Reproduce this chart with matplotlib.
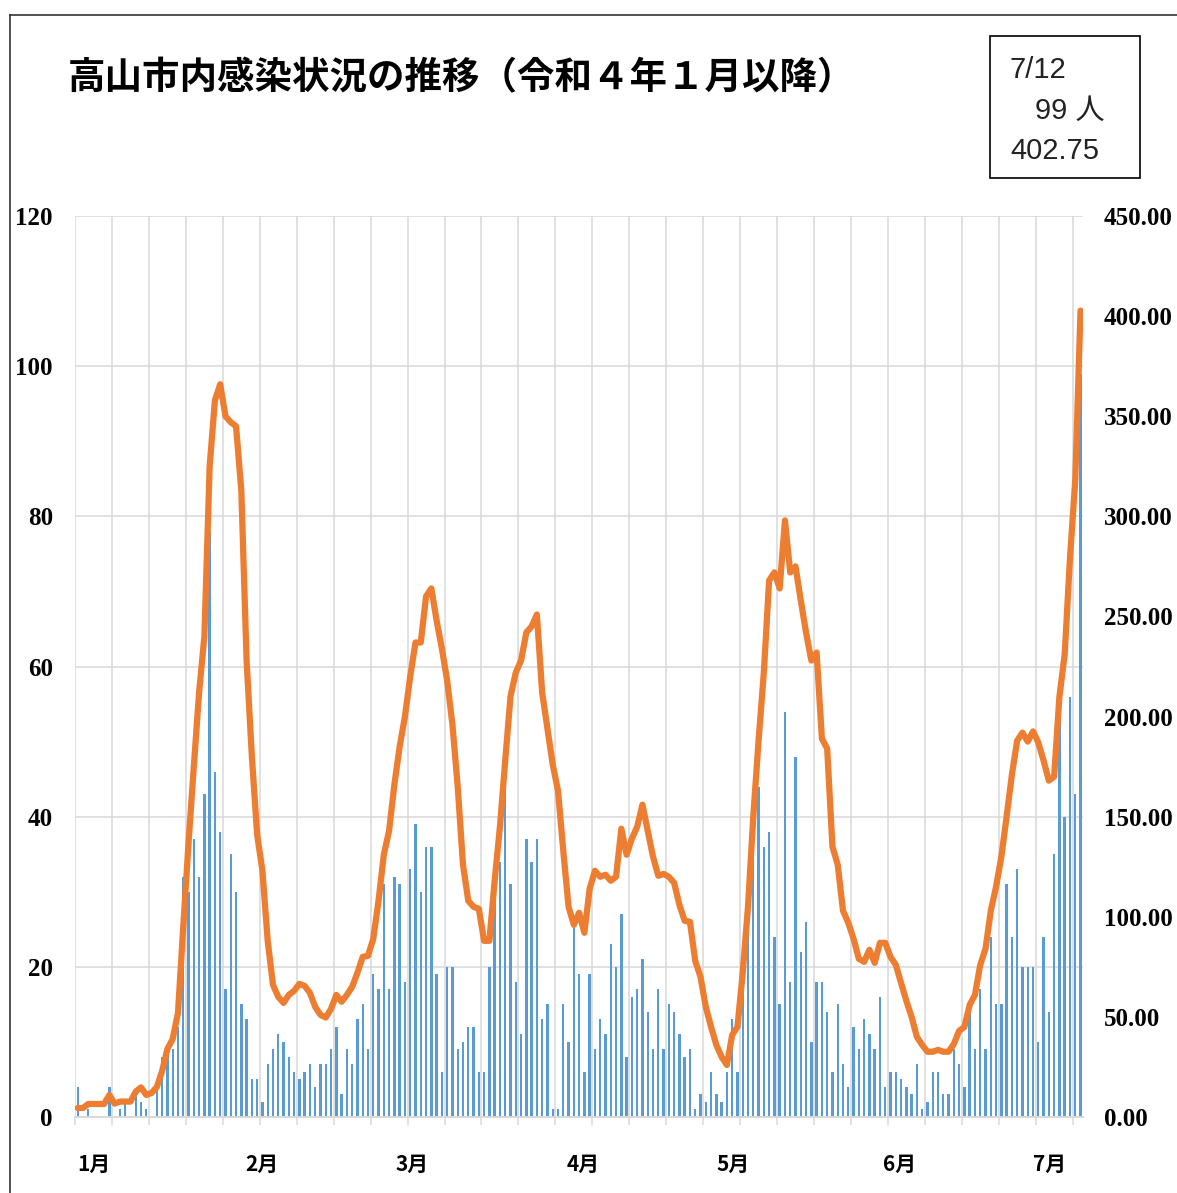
import matplotlib
matplotlib.use("Agg")
import matplotlib.pyplot as plt
from matplotlib.patches import Rectangle
from matplotlib.lines import Line2D
import matplotlib.transforms as mtransforms

plt.rcParams['font.family'] = ['Noto Sans CJK JP', 'DejaVu Sans']

# daily new cases in the city (left axis), one value per day
cases = [4, 0, 1, 0, 0, 0, 4, 0, 1, 2,
         0, 3, 2, 1, 0, 5, 8, 9, 9, 12,
         32, 30, 37, 32, 43, 78, 46, 38, 17, 35,
         30, 15, 13, 5, 5, 2, 7, 9, 11, 10,
         8, 6, 5, 6, 7, 4, 7, 7, 9, 12,
         3, 9, 7, 13, 15, 9, 19, 17, 31, 17,
         32, 31, 18, 33, 39, 30, 36, 36, 19, 6,
         20, 20, 9, 10, 12, 12, 6, 6, 20, 30,
         34, 44, 31, 18, 11, 37, 34, 37, 13, 15,
         1, 1, 15, 10, 26, 19, 6, 19, 9, 13,
         11, 23, 20, 27, 8, 16, 17, 21, 14, 9,
         17, 9, 15, 14, 11, 8, 9, 1, 3, 2,
         6, 3, 2, 6, 13, 6, 21, 27, 40, 44,
         36, 38, 24, 15, 54, 18, 48, 22, 26, 10,
         18, 18, 14, 6, 15, 7, 4, 12, 9, 13,
         11, 9, 16, 4, 6, 6, 5, 4, 3, 7,
         1, 2, 6, 6, 3, 3, 9, 7, 4, 14,
         9, 17, 9, 24, 15, 15, 31, 24, 33, 20,
         20, 20, 10, 24, 14, 35, 53, 40, 56, 43,
         99]

# 7-day total per 100k population (right axis)
rate = [4.5, 4.5, 6.5, 6.5, 6.5, 6.5, 11.0, 6.7, 7.7, 7.7,
        7.7, 12.7, 14.8, 11.0, 12.0, 15.0, 23.0, 34.0, 39.0, 52.0,
        95, 137, 175, 212, 240, 325, 358, 366, 350, 347,
        345, 313, 228, 180, 141, 123, 88, 66, 60, 57,
        61, 63, 66.5, 65.5, 62, 55, 51, 49.7, 54, 61,
        57.6, 61, 65, 72, 80, 80.5, 89, 108, 131, 143,
        166, 185, 200, 220, 237, 237, 260, 264, 248, 234,
        218, 196, 165, 126, 108, 105, 104, 88, 88, 118,
        145, 178, 210, 222, 228, 242, 245, 251, 212, 194,
        176, 163, 133, 105, 96, 102, 92, 114, 123, 120,
        121, 118, 120, 144, 131, 139, 145, 156, 143, 130,
        120.5, 121.4, 120, 117, 106, 98, 97.5, 78, 70, 55,
        45, 36, 30, 26, 41, 45, 72, 105, 150, 188,
        222, 268, 272, 264, 298, 272, 275, 258, 242, 228,
        232, 189, 184, 135, 126, 103, 97, 89, 79, 77.5,
        83.5, 77, 87, 87, 80, 76, 67, 58, 50, 40,
        36, 32.6, 32.6, 33.5, 32.6, 32.6, 36.5, 43, 45, 56,
        61, 76, 84, 103, 115, 130, 150, 171, 188, 192,
        187.5, 192.6, 187, 178, 168, 170, 210, 231, 279, 318,
        402.75]

months = ['1月', '2月', '3月', '4月', '5月', '6月', '7月']
month_pos = [3.1, 34.9, 63.3, 95.7, 124.2, 155.8, 184.2]

title = '高山市内感染状況の推移（令和４年１月以降）'
box_lines = ['7/12', '99 人', '402.75']

BLUE = '#5b9bd5'
ORANGE = '#ed7d31'
GRID = '#d9d9d9'
BOXFONT = ['Liberation Sans', 'Noto Sans CJK JP']

fig = plt.figure(figsize=(11.77, 11.93), dpi=100)
ax = fig.add_axes([0.06377, 0.0637, 0.8565, 0.7552])
ax2 = ax.twinx()

days = list(range(len(cases)))
ax.bar(days, cases, width=0.45, color=BLUE, zorder=2)
ax2.plot(days, rate, color=ORANGE, lw=4.5, solid_joinstyle='round',
         solid_capstyle='round', zorder=3)

ax.set_xlim(-0.5, len(cases) - 0.5)
ax.set_ylim(0, 120)
ax2.set_ylim(0, 450)

ax.set_xticks([-0.5 + 7 * k for k in range(28)])
ax.set_xticklabels([])
ax.tick_params(axis='x', length=6, width=1.1, color=GRID, direction='out')
ax.set_yticks(range(0, 121, 20))
ax.set_yticklabels([str(v) for v in range(0, 121, 20)],
                   fontfamily='Liberation Serif', fontweight='bold', fontsize=18)
ax.tick_params(axis='y', length=0, pad=16)
ax2.set_yticks(range(0, 451, 50))
ax2.set_yticklabels(['%.2f' % v for v in range(0, 451, 50)],
                    fontfamily='Liberation Serif', fontweight='bold', fontsize=18)
ax2.tick_params(axis='y', length=0, pad=15)

ax.grid(True, color=GRID, lw=1.1, zorder=0)
ax.set_axisbelow(True)
for a in (ax, ax2):
    for s in ('top', 'left', 'right'):
        a.spines[s].set_visible(False)
    a.spines['bottom'].set_color(GRID)
    a.spines['bottom'].set_linewidth(1.1)

trans = mtransforms.blended_transform_factory(ax.transData, ax.transAxes)
for m, p in zip(months, month_pos):
    ax.text(p, -0.053, m, transform=trans, ha='center', va='center',
            fontsize=15, fontweight='bold')

fig.text(0.0578, 0.9346, title, ha='left', va='center', fontsize=27,
         fontweight='bold')

fig.patches.append(Rectangle((0.8411, 0.8508), 0.1274, 0.119, transform=fig.transFigure,
                             fill=False, edgecolor='black', lw=1.2))
fig.text(0.8581, 0.9413, box_lines[0], ha='left', va='center', fontsize=21,
         family=BOXFONT, color='#222222')
fig.text(0.8794, 0.907, box_lines[1], ha='left', va='center', fontsize=21,
         family=BOXFONT, color='#222222')
fig.text(0.8581, 0.8734, box_lines[2], ha='left', va='center', fontsize=21,
         family=BOXFONT, color='#222222')

# outer frame (left and top edges)
fig.lines.append(Line2D([0.0085, 0.0085], [0, 0.9874], transform=fig.transFigure,
                        color='#333333', lw=1.2))
fig.lines.append(Line2D([0.0085, 1.0], [0.9874, 0.9874], transform=fig.transFigure,
                        color='#333333', lw=1.2))

fig.savefig('out.png', dpi=100)
